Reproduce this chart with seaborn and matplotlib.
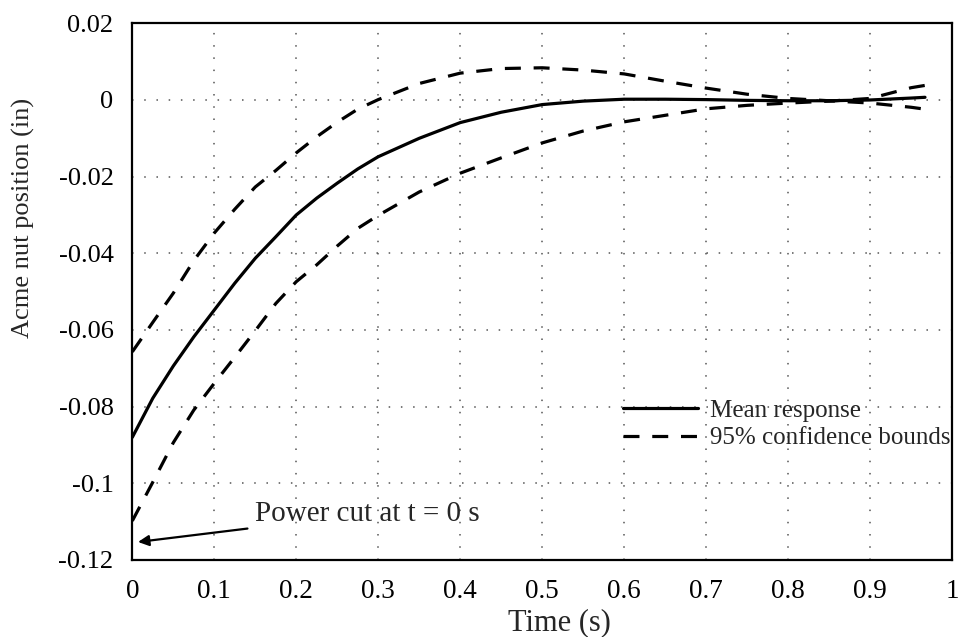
import numpy as np
import pandas as pd
import matplotlib
matplotlib.use("Agg")
import matplotlib.pyplot as plt
from matplotlib.lines import Line2D
import seaborn as sns

# ---- data ----
time_s = [0.0, 0.025, 0.05, 0.075, 0.1, 0.125, 0.15, 0.175, 0.2, 0.225, 0.25, 0.275,
          0.3, 0.35, 0.4, 0.45, 0.5, 0.55, 0.6, 0.65, 0.7, 0.75, 0.8, 0.85, 0.9, 0.95, 0.967]
mean_resp = [-0.0880, -0.0778, -0.0694, -0.0618, -0.0548, -0.0478, -0.0413, -0.0357, -0.0300,
             -0.0256, -0.0217, -0.0180, -0.0148, -0.0100, -0.0059, -0.0032, -0.0012, -0.0003,
             0.0002, 0.0002, 0.0001, -0.0001, -0.0002, -0.0002, 0.0000, 0.0005, 0.0007]
upper_bound = [-0.0657, -0.0580, -0.0504, -0.0419, -0.0347, -0.0285, -0.0227, -0.0184, -0.0138,
               -0.0096, -0.0058, -0.0024, 0.0001, 0.0043, 0.0070, 0.0082, 0.0084, 0.0078,
               0.0068, 0.0049, 0.0031, 0.0015, 0.0004, -0.0002, -0.0008, -0.0019, -0.0024]
lower_bound = [-0.1098, -0.0997, -0.0894, -0.0809, -0.0739, -0.0671, -0.0602, -0.0531, -0.0474,
               -0.0430, -0.0381, -0.0335, -0.0301, -0.0240, -0.0191, -0.0151, -0.0112, -0.0081,
               -0.0057, -0.0040, -0.0023, -0.0014, -0.0008, -0.0003, 0.0004, 0.0032, 0.0038]

x_ticks = [0, 0.1, 0.2, 0.3, 0.4, 0.5, 0.6, 0.7, 0.8, 0.9, 1.0]
x_tick_labels = ["0", "0.1", "0.2", "0.3", "0.4", "0.5", "0.6", "0.7", "0.8", "0.9", "1"]
y_ticks = [-0.12, -0.1, -0.08, -0.06, -0.04, -0.02, 0, 0.02]
y_tick_labels = ["-0.12", "-0.1", "-0.08", "-0.06", "-0.04", "-0.02", "0", "0.02"]

x_label = "Time (s)"
y_label = "Acme nut position (in)"
legend_labels = ["Mean response", "95% confidence bounds"]
annotation_text = "Power cut at t = 0 s"

df = pd.DataFrame({"t": time_s, "mean": mean_resp, "upper": upper_bound, "lower": lower_bound})

# ---- styling ----
sns.set_style("white")
plt.rcParams["font.family"] = ["Liberation Serif", "DejaVu Serif"]
plt.rcParams["axes.unicode_minus"] = False

fig = plt.figure(figsize=(9.58, 6.37), dpi=100)
ax = fig.add_axes([0.1381, 0.1209, 0.8557, 0.8425])

lw = 2.3
dash = (5, 4)
sns.lineplot(data=df, x="t", y="mean", ax=ax, color="black", linewidth=lw, estimator=None)
sns.lineplot(data=df, x="t", y="upper", ax=ax, color="black", linewidth=lw, estimator=None,
             linestyle=(0, dash))
sns.lineplot(data=df, x="t", y="lower", ax=ax, color="black", linewidth=lw, estimator=None,
             linestyle=(0, dash))

ax.set_xlim(0, 1)
ax.set_ylim(-0.12, 0.02)
ax.set_xticks(x_ticks)
ax.set_xticklabels(x_tick_labels)
ax.set_yticks(y_ticks)
ax.set_yticklabels(y_tick_labels)
ax.tick_params(axis="both", direction="in", length=6, width=1.2, colors="black")
ax.tick_params(axis="y", pad=13.5, labelsize=19)
ax.tick_params(axis="x", pad=14, labelsize=19.5)
ax.grid(True, linestyle=(0, (1, 7)), color="#555555", linewidth=1.1)
for s in ax.spines.values():
    s.set_color("black")
    s.set_linewidth(1.6)

ax.set_xlabel(x_label, fontsize=22)
ax.xaxis.label.set_va("center")
ax.xaxis.set_label_coords(0.5215, -0.117)
ax.set_ylabel(y_label, fontsize=19)
ax.yaxis.label.set_va("center")
ax.yaxis.set_label_coords(-0.133, 0.637)

handles = [Line2D([], [], color="black", linewidth=lw),
           Line2D([], [], color="black", linewidth=lw, linestyle=(0, dash))]
ax.legend(handles, legend_labels, loc="upper left", bbox_to_anchor=(0.586, 0.318),
          frameon=False, fontsize=18, handlelength=3.0, handletextpad=0.5,
          labelspacing=0.2, borderaxespad=0)

ax.annotate(annotation_text, xy=(0.007, -0.1153), xytext=(0.1495, -0.1098),
            fontsize=21, ha="left", va="baseline",
            arrowprops=dict(arrowstyle="-|>", color="black", lw=1.6,
                            mutation_scale=16, shrinkA=3, shrinkB=0))

fig.savefig("out.png", dpi=100, facecolor="white")
